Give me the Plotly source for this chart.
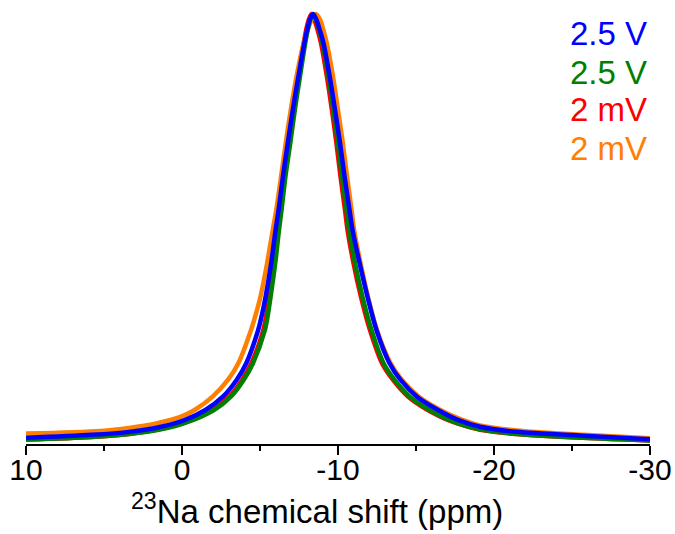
import plotly.graph_objects as go

# ---- data ----
blue_x = [10, 5.8, 3.4, 1.35, -0.20, -1.50, -2.62, -3.50, -4.12, -4.88, -5.13, -5.36, -5.72,
          -6.00, -6.19, -6.47, -6.78, -7.10, -7.46, -7.84, -8.02, -8.19, -8.40,
          -8.62, -8.83, -9.07, -9.47, -9.81, -10.13, -10.42, -10.74, -10.93, -11.38, -11.89,
          -12.47, -13.30, -14.01, -15.06, -16.41, -17.69, -19.10, -21.47, -25.71, -30]
blue_y = [0.012, 0.019, 0.026, 0.038, 0.054, 0.077, 0.108, 0.147, 0.186, 0.263, 0.300, 0.341, 0.420,
          0.497, 0.543, 0.621, 0.699, 0.776, 0.854, 0.932, 0.963, 0.986, 1.000,
          0.986, 0.963, 0.932, 0.854, 0.776, 0.699, 0.621, 0.543, 0.497, 0.420, 0.341,
          0.263, 0.186, 0.147, 0.108, 0.077, 0.054, 0.038, 0.026, 0.017, 0.009]

green_x = [10, 5.8, 3.4, 1.35, -0.20, -2.05, -3.13, -3.95, -4.55, -5.31, -5.51, -5.68, -5.98,
           -6.22, -6.38, -6.63, -6.94, -7.23, -7.56, -7.90, -8.06, -8.22, -8.40,
           -8.59, -8.79, -9.01, -9.39, -9.71, -10.00, -10.26, -10.55, -10.71, -11.09, -11.57,
           -12.15, -12.92, -13.63, -14.60, -16.41, -17.69, -19.10, -21.47, -25.71, -30]
green_y = [0.008, 0.014, 0.021, 0.032, 0.047, 0.077, 0.108, 0.147, 0.186, 0.263, 0.300, 0.341, 0.420,
           0.497, 0.543, 0.621, 0.699, 0.776, 0.854, 0.932, 0.963, 0.986, 1.000,
           0.986, 0.963, 0.932, 0.854, 0.776, 0.699, 0.621, 0.543, 0.497, 0.420, 0.341,
           0.263, 0.186, 0.147, 0.108, 0.066, 0.046, 0.032, 0.021, 0.012, 0.006]

red_x = [10, 5.8, 3.4, 1.35, -0.20, -1.95, -3.03, -3.85, -4.45, -5.21, -5.41, -5.58, -5.88,
         -6.12, -6.28, -6.53, -6.84, -7.13, -7.46, -7.80, -7.96, -8.12, -8.30,
         -8.49, -8.69, -8.91, -9.29, -9.61, -9.90, -10.16, -10.45, -10.61, -10.99, -11.47,
         -12.05, -12.82, -13.53, -14.50, -16.41, -17.69, -19.10, -21.47, -25.71, -30]
red_y = [0.008, 0.014, 0.021, 0.033, 0.048, 0.077, 0.108, 0.147, 0.186, 0.263, 0.300, 0.341, 0.420,
         0.497, 0.543, 0.621, 0.699, 0.776, 0.854, 0.932, 0.963, 0.986, 1.000,
         0.986, 0.963, 0.932, 0.854, 0.776, 0.699, 0.621, 0.543, 0.497, 0.420, 0.341,
         0.263, 0.186, 0.147, 0.108, 0.064, 0.045, 0.031, 0.021, 0.012, 0.006]

orange_x = [10, 5.2, 3.4, 1.72, 0.02, -0.81, -1.96, -2.94, -3.61, -4.42, -4.73, -5.03, -5.46,
            -5.82, -6.04, -6.35, -6.65, -6.97, -7.34, -7.80, -8.06, -8.30, -8.59,
            -8.86, -9.06, -9.28, -9.68, -10.00, -10.31, -10.58, -10.87, -11.03, -11.44, -11.92,
            -12.50, -13.37, -14.10, -15.19, -16.41, -17.69, -19.10, -21.47, -25.71, -30]
orange_y = [0.022, 0.028, 0.035, 0.045, 0.062, 0.077, 0.108, 0.147, 0.186, 0.263, 0.300, 0.341, 0.420,
            0.497, 0.543, 0.621, 0.699, 0.776, 0.854, 0.932, 0.963, 0.986, 1.000,
            0.986, 0.963, 0.932, 0.854, 0.776, 0.699, 0.621, 0.543, 0.497, 0.420, 0.341,
            0.263, 0.186, 0.147, 0.108, 0.080, 0.058, 0.041, 0.029, 0.019, 0.011]

series = [
    ("2 mV", red_x, red_y, "#FF0000"),
    ("2 mV", orange_x, orange_y, "#FF8000"),
    ("2.5 V", green_x, green_y, "#008000"),
    ("2.5 V", blue_x, blue_y, "#0000FF"),
]

legend_labels = ["2.5 V", "2.5 V", "2 mV", "2 mV"]
legend_colors = ["#0000FF", "#008000", "#FF0000", "#FF8000"]

major_ticks = [10, 0, -10, -20, -30]
major_labels = ["10", "0", "-10", "-20", "-30"]
minor_ticks = [5, -5, -15, -25]

FONT = "Liberation Sans, Arial, sans-serif"

fig = go.Figure()
for name, xs, ys, col in series:
    fig.add_trace(go.Scatter(x=xs, y=ys, mode="lines", name=name,
                             line=dict(color=col, width=4.5, shape="spline", smoothing=0.9),
                             showlegend=False, hoverinfo="skip"))

legend_y = [0.945, 0.855, 0.770, 0.680]
for lab, col, yy in zip(legend_labels, legend_colors, legend_y):
    fig.add_annotation(text=lab, xref="paper", yref="paper", x=0.868, y=yy,
                       xanchor="left", yanchor="middle", showarrow=False,
                       font=dict(family=FONT, size=33, color=col))

fig.add_annotation(text="<sup>23</sup>Na chemical shift (ppm)", xref="paper", yref="paper",
                   x=0.466, y=-0.150, xanchor="center", yanchor="middle", showarrow=False,
                   font=dict(family=FONT, size=33, color="black"))

fig.update_layout(
    width=675, height=534,
    margin=dict(l=26, r=25, t=10, b=90, autoexpand=False),
    paper_bgcolor="white", plot_bgcolor="white",
    font=dict(family=FONT, color="black"),
)
fig.update_xaxes(
    range=[10, -30], showgrid=False, zeroline=False, automargin=False,
    showline=True, linecolor="black", linewidth=2,
    tickmode="array", tickvals=major_ticks, ticktext=major_labels,
    ticks="outside", ticklen=9, tickwidth=2, tickcolor="black",
    ticklabelstandoff=-11,
    tickfont=dict(family=FONT, size=30, color="black"),
    minor=dict(tickmode="array", tickvals=minor_ticks, ticks="outside", ticklen=5,
               tickwidth=2, tickcolor="black"),
)
fig.update_yaxes(range=[-0.0023, 1.0093], visible=False, showgrid=False, zeroline=False)

fig.write_html("out.html", config={"displayModeBar": False},
               post_script="document.body.style.margin='0';document.body.style.padding='0';")
